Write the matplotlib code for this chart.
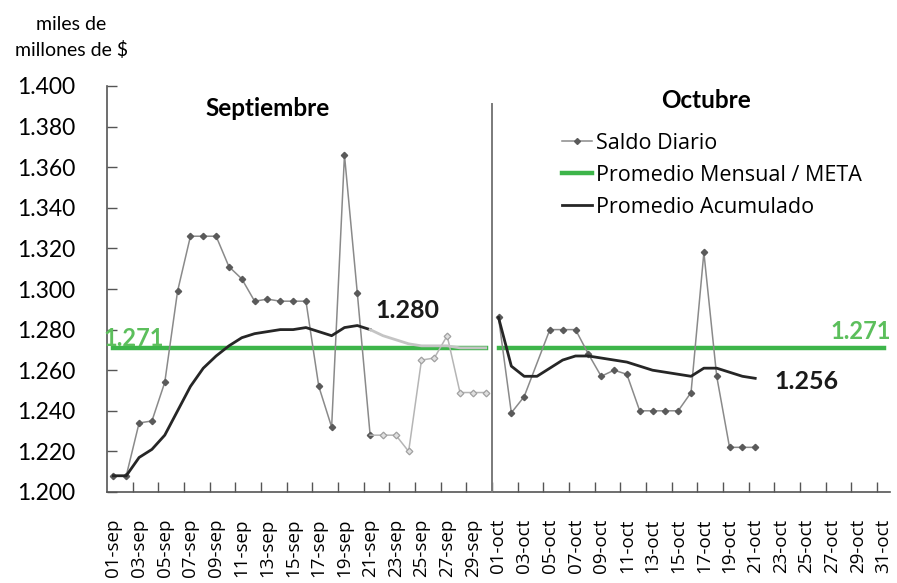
import matplotlib
matplotlib.use("Agg")
import matplotlib.pyplot as plt
import numpy as np
from matplotlib.lines import Line2D

# --- data (miles de millones de $) ---
sep_saldo = [1.208, 1.208, 1.234, 1.235, 1.254, 1.299, 1.326, 1.326, 1.326, 1.311,
             1.305, 1.294, 1.295, 1.294, 1.294, 1.294, 1.252, 1.232, 1.366, 1.298,
             1.228, 1.228, 1.228, 1.220, 1.265, 1.266, 1.277, 1.249, 1.249, 1.249]
sep_acum = [1.208, 1.208, 1.217, 1.221, 1.228, 1.240, 1.252, 1.261, 1.267, 1.272,
            1.276, 1.278, 1.279, 1.280, 1.280, 1.281, 1.279, 1.277, 1.281, 1.282,
            1.280, 1.277, 1.275, 1.273, 1.272, 1.272, 1.272, 1.271, 1.271, 1.271]
oct_saldo = [1.286, 1.239, 1.247, None, 1.280, 1.280, 1.280, 1.268, 1.257, 1.260,
             1.258, 1.240, 1.240, 1.240, 1.240, 1.249, 1.318, 1.257, 1.222, 1.222,
             1.222]
oct_acum = [1.286, 1.262, 1.257, 1.257, 1.261, 1.265, 1.267, 1.267, 1.266, 1.265,
            1.264, 1.262, 1.260, 1.259, 1.258, 1.257, 1.261, 1.261, 1.259, 1.257,
            1.256]
meta = 1.271
sep_days = 30
oct_days = 31
sep_known = 21  # days of september drawn dark; the rest is lighter
tick_labels = [f"{d:02d}-sep" for d in range(1, 31, 2)] + [f"{d:02d}-oct" for d in range(1, 32, 2)]

GRAY = "#8a8a8a"
LIGHT = "#b5b5b5"
DARK = "#262626"
GREEN = "#3db54a"
GREEN_TXT = "#5cbf5c"

fig = plt.figure(figsize=(8.97, 5.83), dpi=100)
ax = fig.add_axes([107 / 897, 91 / 583, 783 / 897, 406 / 583])

xs_sep = np.arange(sep_days)
xs_oct = np.arange(sep_days, sep_days + oct_days)

# promedio mensual / meta
ax.plot(xs_sep, [meta] * sep_days, color=GREEN, lw=3.2, zorder=2)
ax.plot(xs_oct, [meta] * oct_days, color=GREEN, lw=3.2, zorder=2)

# saldo diario - september
k = sep_known
ax.plot(xs_sep[:k], sep_saldo[:k], color=GRAY, lw=1.1, marker="D", ms=3.2,
        mfc="#5a5a5a", mec="#5a5a5a", zorder=3)
ax.plot(xs_sep[k - 1:], sep_saldo[k - 1:], color=LIGHT, lw=1.1, zorder=3)
ax.plot(xs_sep[k:], sep_saldo[k:], ls="none", marker="D", ms=3.4,
        mfc="#e0e0e0", mec="#a0a0a0", mew=0.9, zorder=3)

# saldo diario - october (missing day is bridged by the line)
ox = [x for x, v in zip(xs_oct, oct_saldo) if v is not None]
oy = [v for v in oct_saldo if v is not None]
ax.plot(ox, oy, color=GRAY, lw=1.1, marker="D", ms=3.2,
        mfc="#5a5a5a", mec="#5a5a5a", zorder=3)

# promedio acumulado
ax.plot(xs_sep[:k], sep_acum[:k], color=DARK, lw=2.0, zorder=4)
ax.plot(xs_sep[k - 1:], sep_acum[k - 1:], color="#c4c4c4", lw=2.0, zorder=4)
ax.plot(xs_oct[:len(oct_acum)], oct_acum, color=DARK, lw=2.0, zorder=4)

# month divider
ax.plot([sep_days - 0.5] * 2, [1.200, 1.391], color="#7a7a7a", lw=1.4, zorder=5,
        clip_on=False)

ax.set_xlim(-0.5, sep_days + oct_days - 0.5)
ax.set_ylim(1.200, 1.400)

yt = np.arange(1.200, 1.4001, 0.020)
ax.set_yticks(yt)
ax.set_yticklabels([f"{v:.3f}" for v in yt], fontfamily="Lato", fontsize=16.5)
ax.set_xticks(np.arange(0, 61, 2))
ax.set_xticklabels(tick_labels, rotation=90, fontfamily="Open Sans", fontsize=13.5)
ax.set_xticks(np.arange(1.5, 60, 2), minor=True)
ax.tick_params(axis="x", which="major", length=0, pad=19)
ax.tick_params(axis="x", which="minor", direction="in", length=7, width=1, color="#555555")
ax.tick_params(axis="y", direction="in", length=7, width=1, color="#555555", pad=23)

for s in ("top", "right"):
    ax.spines[s].set_visible(False)
for s in ("left", "bottom"):
    ax.spines[s].set_color("#555555")
    ax.spines[s].set_linewidth(1.2)

# labels and titles
fig.text(71 / 897, 1 - 25 / 583, "miles de", ha="center", va="center",
         fontfamily="Lato", fontsize=14)
fig.text(71 / 897, 1 - 50 / 583, "millones de $", ha="center", va="center",
         fontfamily="Lato", fontsize=14)
fig.text(268 / 897, 1 - 108 / 583, "Septiembre", ha="center", va="center",
         fontfamily="Lato", fontweight="bold", fontsize=17.5)
fig.text(706 / 897, 1 - 100 / 583, "Octubre", ha="center", va="center",
         fontfamily="Lato", fontweight="bold", fontsize=17.5)

ax.annotate(f"{sep_acum[k - 1]:.3f}", (xs_sep[k - 1], sep_acum[k - 1]),
            xytext=(4, 14), textcoords="offset points", ha="left", va="center",
            fontfamily="Lato", fontweight="bold", fontsize=18, color="#1a1a1a")
ax.annotate(f"{oct_acum[-1]:.3f}", (xs_oct[len(oct_acum) - 1], oct_acum[-1]),
            xytext=(14, -2), textcoords="offset points", ha="left", va="center",
            fontfamily="Lato", fontweight="bold", fontsize=18, color="#1a1a1a")
ax.annotate(f"{meta:.3f}", (xs_sep[0], meta), xytext=(-7, 7), textcoords="offset points",
            ha="left", va="center", fontfamily="Lato", fontweight="bold",
            fontsize=17, color=GREEN_TXT)
ax.annotate(f"{meta:.3f}", (xs_oct[-1], meta), xytext=(5, 12), textcoords="offset points",
            ha="right", va="center", fontfamily="Lato", fontweight="bold",
            fontsize=17, color=GREEN_TXT)

handles = [
    Line2D([], [], color=GRAY, lw=1.1, marker="D", ms=3, mfc="#5a5a5a", mec="#5a5a5a"),
    Line2D([], [], color=GREEN, lw=3.2),
    Line2D([], [], color=DARK, lw=2.0),
]
names = ["Saldo Diario", "Promedio Mensual / META", "Promedio Acumulado"]
leg = fig.legend(handles, names, loc="upper left", bbox_to_anchor=(562 / 897, 1 - 133 / 583),
                 frameon=False, handlelength=1.4, handletextpad=0.2, labelspacing=0.5,
                 borderpad=0, borderaxespad=0, prop={"family": "Open Sans", "size": 15.5})

fig.savefig("out.png", dpi=100)
